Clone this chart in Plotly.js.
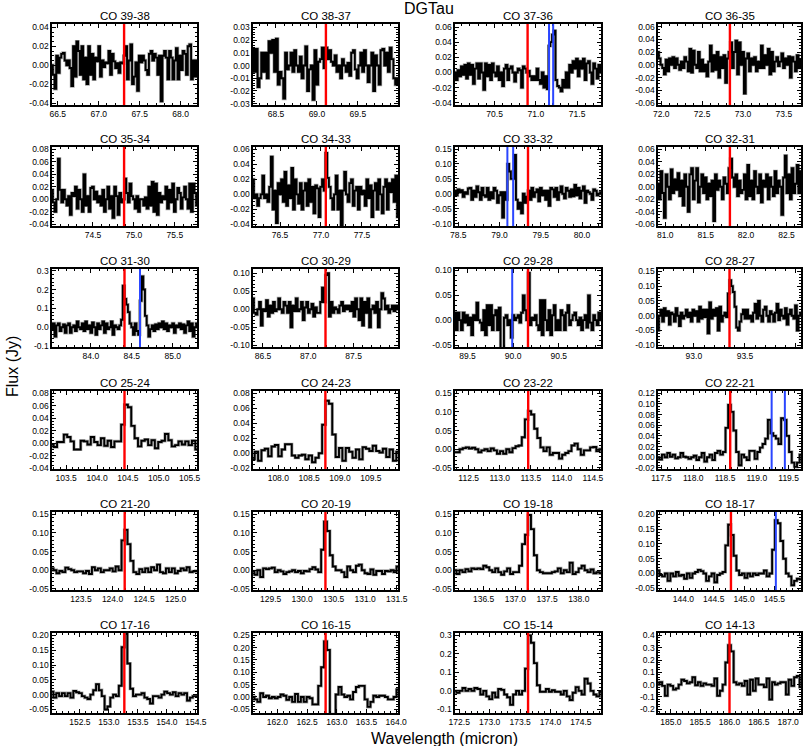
<!DOCTYPE html>
<html><head><meta charset="utf-8">
<script src="https://cdn.plot.ly/plotly-3.0.1.min.js"></script>
<style>html,body{margin:0;padding:0;background:#fff}#chart{width:804px;height:746px}</style>
</head><body><div id="chart"></div>
<script>
const titles = ['CO 39-38','CO 38-37','CO 37-36','CO 36-35','CO 35-34','CO 34-33','CO 33-32','CO 32-31',
  'CO 31-30','CO 30-29','CO 29-28','CO 28-27','CO 25-24','CO 24-23','CO 23-22','CO 22-21',
  'CO 21-20','CO 20-19','CO 19-18','CO 18-17','CO 17-16','CO 16-15','CO 15-14','CO 14-13'];
const xRanges = [[66.43,68.20],[68.22,69.99],[70.02,71.79],[71.96,73.71],[74.00,75.77],[76.17,77.94],[78.46,80.23],[80.91,82.68],
  [83.526,85.296],[86.39,87.99],[89.363,90.963],[92.649,94.049],[103.27,105.62],[107.59,109.94],[112.28,114.63],[117.445,119.695],
  [123.04,125.34],[129.22,131.52],[136.05,138.35],[143.58,145.94],[152.02,154.52],[161.59,164.03],[172.43,174.83],[184.78,187.22]];
const yRanges = [[-0.042,0.0435],[-0.031,0.0326],[-0.043,0.064],[-0.063,0.064],[-0.043,0.084],[-0.042,0.063],[-0.108,0.157],[-0.063,0.064],
  [-0.105,0.309],[-0.105,0.112],[-0.054,0.103],[-0.106,0.158],[-0.0413,0.084],[-0.021,0.083],[-0.053,0.156],[-0.0219,0.124],
  [-0.053,0.156],[-0.053,0.156],[-0.053,0.156],[-0.056,0.208],[-0.062,0.208],[-0.065,0.259],[-0.12,0.313],[-0.23,0.419]];
const xTickLabels = [['66.5','67.0','67.5','68.0'],['68.5','69.0','69.5'],['70.5','71.0','71.5'],['72.0','72.5','73.0','73.5'],
  ['74.5','75.0','75.5'],['76.5','77.0','77.5'],['78.5','79.0','79.5','80.0'],['81.0','81.5','82.0','82.5'],
  ['84.0','84.5','85.0'],['86.5','87.0','87.5'],['89.5','90.0','90.5'],['93.0','93.5','94.0'],
  ['103.5','104.0','104.5','105.0','105.5'],['108.0','108.5','109.0','109.5'],['112.5','113.0','113.5','114.0','114.5'],['117.5','118.0','118.5','119.0','119.5'],
  ['123.5','124.0','124.5','125.0'],['129.5','130.0','130.5','131.0','131.5'],['136.5','137.0','137.5','138.0'],['144.0','144.5','145.0','145.5'],
  ['152.5','153.0','153.5','154.0','154.5'],['162.0','162.5','163.0','163.5','164.0'],['172.5','173.0','173.5','174.0','174.5'],['185.0','185.5','186.0','186.5','187.0']];
const yTickLabels = [['-0.04','-0.02','0.00','0.02','0.04'],['-0.03','-0.02','-0.01','0.00','0.01','0.02','0.03'],
  ['-0.04','-0.02','0.00','0.02','0.04','0.06'],['-0.06','-0.04','-0.02','0.00','0.02','0.04','0.06'],
  ['-0.04','-0.02','0.00','0.02','0.04','0.06','0.08'],['-0.04','-0.02','0.00','0.02','0.04','0.06'],
  ['-0.10','-0.05','0.00','0.05','0.10','0.15'],['-0.06','-0.04','-0.02','0.00','0.02','0.04','0.06'],
  ['-0.1','0.0','0.1','0.2','0.3'],['-0.10','-0.05','0.00','0.05','0.10'],['-0.05','0.00','0.05','0.10'],
  ['-0.10','-0.05','0.00','0.05','0.10','0.15'],['-0.04','-0.02','0.00','0.02','0.04','0.06','0.08'],
  ['-0.02','0.00','0.02','0.04','0.06','0.08'],['-0.05','0.00','0.05','0.10','0.15'],
  ['-0.02','0.00','0.02','0.04','0.06','0.08','0.10','0.12'],['-0.05','0.00','0.05','0.10','0.15'],
  ['-0.05','0.00','0.05','0.10','0.15'],['-0.05','0.00','0.05','0.10','0.15'],['-0.05','0.00','0.05','0.10','0.15','0.20'],
  ['-0.05','0.00','0.05','0.10','0.15','0.20'],['-0.05','0.00','0.05','0.10','0.15','0.20','0.25'],
  ['-0.1','0.0','0.1','0.2','0.3'],['-0.2','-0.1','0.0','0.1','0.2','0.3','0.4']];
const redLines = [67.31,69.11,70.90,72.84,74.88,77.059,79.345,81.80,84.411,87.190,90.163,93.349,
  104.445,108.763,113.458,118.581,124.193,130.369,137.196,144.784,153.267,162.812,173.631,186.000];
const blueLines = [[],[],[71.16,71.21],[],[],[],[79.095,79.165],[],[84.60],[],[89.99],[],[],[],[],[119.233,119.441],[],[],[],[145.525],[],[],[],[]];

const flux_39_38 = [0.000,-0.010,-0.025,0.010,-0.008,0.008,0.012,0.013,0.005,0.000,0.005,-0.003,-0.022,0.020,-0.012,0.025,0.015,-0.010,0.020,
 -0.015,0.008,-0.020,0.020,-0.010,0.012,-0.015,0.008,0.004,0.020,-0.012,0.005,-0.002,0.003,0.002,0.015,-0.010,0.012,0.004,-0.003,
 0.002,-0.008,0.003,0.002,0.010,0.020,-0.015,0.005,0.022,-0.020,-0.012,0.003,-0.027,0.010,0.003,0.010,0.005,-0.005,-0.010,0.012,
 0.015,0.005,0.012,0.008,-0.010,0.010,-0.038,0.010,0.015,0.008,-0.015,0.015,0.008,-0.015,0.005,0.018,-0.015,0.010,-0.005,0.015,
 0.012,-0.010,0.020,0.022,-0.015,0.005,-0.012,0.005];
const flux_38_37 = [0.013,-0.005,0.013,-0.017,-0.010,0.010,-0.005,0.010,-0.010,0.019,0.010,0.020,-0.005,0.021,-0.015,-0.005,-0.010,-0.026,0.010,-0.003,
 0.000,0.010,-0.005,0.012,0.000,-0.005,0.007,-0.010,0.000,0.015,-0.020,-0.003,0.000,-0.027,0.012,-0.015,0.003,0.005,0.014,-0.002,
 0.014,0.005,0.012,0.003,0.000,0.008,-0.005,0.000,-0.010,0.005,0.000,-0.005,0.002,-0.008,0.010,0.012,-0.003,-0.010,0.000,0.010,
 -0.005,0.012,0.000,-0.013,0.000,0.010,-0.020,0.008,0.000,-0.015,0.012,0.013,0.000,0.010,-0.005,0.014,0.005,-0.010,-0.015,-0.010];
const flux_37_36 = [0.000,-0.010,0.003,-0.005,0.008,-0.003,0.010,-0.008,0.012,-0.003,0.010,-0.015,0.005,0.012,-0.008,0.012,0.000,-0.023,0.012,-0.005,
 0.010,-0.010,0.012,0.000,-0.005,0.008,-0.010,0.000,-0.018,0.005,0.010,-0.010,0.005,0.008,0.000,-0.012,0.000,0.005,0.003,-0.020,0.008,0.005,0.000,
 0.002,-0.005,-0.010,-0.005,-0.010,0.005,-0.010,-0.015,0.000,-0.020,-0.005,-0.022,0.035,0.040,0.050,0.055,
 -0.010,-0.018,-0.020,-0.025,-0.010,-0.020,0.000,-0.020,0.010,0.000,0.015,0.005,0.018,-0.005,0.015,0.005,0.018,-0.010,0.012,0.015,0.000,-0.015,0.012,0.005,-0.008,0.010,0.000];
const flux_36_35 = [0.020,0.010,0.000,-0.005,-0.015,0.008,-0.010,0.010,0.000,0.012,-0.005,0.010,0.000,-0.008,0.005,-0.005,0.012,0.005,-0.010,0.025,
 -0.012,0.022,0.000,-0.005,0.020,-0.010,0.008,-0.010,0.000,-0.018,0.005,0.030,-0.010,0.015,-0.008,0.020,-0.020,0.012,-0.005,0.015,-0.028,0.010,0.020,
 0.035,-0.005,0.020,0.038,-0.015,0.035,0.000,0.020,-0.045,0.010,0.018,-0.010,0.010,0.000,0.012,-0.010,0.005,-0.005,0.030,-0.005,0.015,0.000,0.025,-0.015,0.020,-0.010,0.005,
 0.012,-0.002,0.005,0.018,-0.005,0.010,0.000,0.013,-0.020,0.012,0.005,-0.010,0.015,-0.005,0.008];
const flux_35_34 = [0.015,-0.005,-0.020,0.000,0.065,0.015,-0.005,0.015,0.000,-0.010,0.005,-0.025,0.010,0.005,0.020,-0.015,0.015,0.000,-0.020,0.040,
 -0.010,0.005,-0.020,0.018,0.020,0.000,0.012,-0.005,0.005,-0.010,0.015,-0.020,0.000,0.020,-0.015,0.005,-0.030,0.020,0.005,-0.025,0.010,-0.005,0.000,
 0.033,0.010,-0.005,0.025,0.005,0.000,-0.015,0.005,-0.020,0.000,0.000,-0.010,0.003,-0.015,0.020,-0.010,0.028,-0.020,0.025,-0.025,0.010,-0.005,0.005,0.000,0.020,-0.015,0.015,-0.005,0.025,
 -0.020,0.000,0.018,0.010,-0.015,0.003,0.020,0.000,-0.015,0.025,-0.020,0.025,0.010,-0.010];
const flux_34_33 = [0.020,-0.005,0.000,-0.015,-0.005,0.000,0.025,-0.005,0.000,-0.010,0.010,0.050,-0.020,0.005,-0.038,0.015,0.000,0.020,-0.010,0.030,
 -0.015,0.012,-0.005,0.035,-0.020,0.020,0.000,-0.012,0.015,-0.020,0.005,0.015,-0.015,0.020,-0.010,0.010,-0.025,0.012,0.008,-0.030,0.010,0.020,0.005,
 0.055,0.022,0.010,-0.005,-0.020,0.000,0.025,-0.020,0.005,-0.042,0.005,0.030,0.000,-0.010,0.015,0.020,-0.015,0.005,0.010,-0.020,0.010,0.000,0.005,-0.015,0.020,-0.005,0.012,-0.030,0.005,
 0.015,-0.020,0.020,0.000,-0.025,0.010,0.020,-0.020,0.015,0.003,0.020,-0.010,0.025,-0.030];
const flux_33_32 = [0.010,-0.005,0.015,0.005,0.012,-0.010,0.005,0.000,0.018,0.020,-0.020,0.010,-0.010,0.025,0.005,-0.020,0.020,-0.005,-0.010,0.020,
 -0.020,0.005,-0.015,0.020,0.010,-0.030,-0.005,0.005,-0.080,0.005,-0.020,0.100,0.075,0.050,0.050,0.130,-0.020,-0.050,-0.030,-0.065,0.000,-0.030,-0.010,0.010,
 -0.020,0.020,-0.010,0.005,0.015,-0.025,0.020,-0.005,0.010,-0.020,0.010,-0.040,0.020,0.015,
 -0.010,0.020,-0.020,0.005,0.025,0.000,-0.015,0.020,0.010,-0.010,0.015,-0.008,0.030,-0.005,0.020,-0.015,0.010,0.025,-0.030,0.010,0.005,0.000,-0.020,0.015,0.010,-0.005,0.000,0.005];
const flux_32_31 = [0.005,-0.020,0.025,-0.010,-0.050,0.020,0.000,-0.020,0.028,-0.010,0.012,-0.005,0.022,-0.015,0.010,-0.030,0.020,0.000,-0.040,0.020,
 0.030,-0.020,0.010,0.030,-0.025,0.000,0.020,-0.010,0.015,-0.020,0.005,-0.015,0.010,-0.055,0.020,-0.005,0.010,0.000,-0.020,0.015,0.005,-0.010,0.030,
 0.045,0.015,0.000,0.020,-0.015,0.010,-0.010,-0.005,0.020,-0.020,0.035,-0.015,0.010,-0.020,0.025,0.000,-0.010,0.020,-0.025,0.010,0.000,0.020,-0.020,0.015,0.000,-0.015,0.025,
 -0.010,0.010,0.000,-0.045,0.015,0.050,-0.010,0.020,-0.020,0.030,-0.010,0.005,0.035,-0.010,0.025];
const flux_31_30 = [-0.010,0.020,-0.050,0.010,0.020,-0.020,0.000,0.015,-0.030,0.010,0.020,-0.030,0.000,0.010,-0.020,0.030,0.000,-0.010,0.020,-0.020,
 0.030,-0.010,0.010,-0.030,0.025,0.000,-0.040,0.020,-0.010,0.010,0.030,-0.030,0.020,-0.010,0.000,0.030,-0.040,0.010,0.000,-0.010,0.010,0.040,
 0.220,0.150,0.120,0.080,0.020,0.000,-0.040,0.020,-0.020,-0.040,0.140,0.270,0.200,0.060,
 0.010,-0.050,-0.010,0.010,-0.020,0.015,-0.010,0.020,0.000,0.030,-0.010,0.020,-0.020,0.010,0.000,0.020,-0.030,0.010,0.000,0.020,-0.010,0.015,-0.030,0.010,0.030,-0.020,0.020,-0.050,0.000,0.020];
const flux_30_29 = [0.030,-0.010,-0.015,0.000,0.020,-0.045,0.000,-0.005,0.025,-0.020,0.010,-0.010,0.020,-0.005,0.000,0.030,0.000,-0.010,0.020,0.010,
 -0.010,0.020,-0.050,0.010,-0.005,0.030,-0.005,0.000,0.020,-0.030,0.005,0.020,-0.010,0.000,0.015,-0.020,0.005,-0.010,-0.010,0.020,0.060,0.020,0.095,
 0.100,-0.020,0.020,-0.010,0.005,0.000,-0.010,0.010,0.020,-0.005,0.010,0.000,0.010,-0.005,0.020,-0.020,0.030,0.000,-0.030,0.030,-0.045,0.020,-0.010,0.030,-0.050,0.000,0.010,
 -0.010,0.020,-0.050,0.000,0.045,0.030,0.000,0.010,-0.010,0.000,0.010,-0.005,0.010,0.000];
const flux_29_28 = [0.015,-0.020,0.015,0.000,-0.020,0.015,-0.005,0.010,-0.010,0.005,-0.030,0.010,0.000,0.035,0.000,-0.005,-0.020,0.020,-0.030,0.030,
 -0.010,0.030,-0.020,0.010,0.020,-0.020,0.025,-0.070,-0.060,0.005,0.010,-0.010,0.000,-0.035,0.010,0.000,0.005,0.010,-0.005,0.015,0.050,0.020,0.000,
 0.095,-0.010,0.005,0.000,0.010,-0.010,-0.020,0.040,-0.030,0.040,0.000,-0.020,0.020,-0.030,0.010,0.030,-0.020,0.000,-0.020,0.020,0.010,-0.020,0.015,0.030,-0.010,0.000,0.010,0.015,0.000,
 -0.010,0.005,-0.020,0.000,0.010,-0.015,0.050,-0.005,-0.020,0.010,0.000,-0.010,0.015,0.000];
const flux_28_27 = [-0.050,0.000,0.020,-0.020,0.025,0.000,0.015,-0.030,0.010,0.005,-0.020,0.025,0.000,-0.035,0.010,-0.010,0.000,0.020,-0.005,0.010,
 -0.020,0.020,0.000,0.015,-0.020,0.030,-0.010,0.020,-0.005,0.020,-0.060,0.045,-0.010,0.020,0.000,0.025,-0.050,0.030,-0.020,0.000,0.010,-0.005,0.075,
 0.120,0.100,0.080,0.030,-0.040,-0.050,-0.020,0.005,0.020,-0.010,0.020,-0.010,0.000,-0.020,0.010,0.040,-0.010,0.050,0.000,-0.020,0.020,0.030,0.000,-0.020,0.015,0.005,-0.020,0.010,
 0.040,-0.015,0.020,0.000,-0.010,0.025,-0.030,0.005,0.020,0.000,-0.010,0.035,-0.050,0.000,0.010];
const flux_25_24 = [-0.002,-0.006,0.002,0.002,0.014,0.010,0.003,-0.010,-0.010,0.004,0.003,-0.002,0.010,0.002,-0.003,0.008,-0.004,0.004,-0.006,0.003,
 0.003,0.030,0.062,0.058,0.028,0.008,-0.005,0.004,0.006,-0.003,0.005,-0.008,0.002,0.004,0.015,0.005,-0.005,-0.003,0.003,-0.002,0.003,-0.003,0.004,-0.010];
const flux_24_23 = [-0.008,0.002,-0.010,0.004,0.006,-0.004,0.009,0.011,-0.004,0.005,0.012,0.012,-0.003,-0.006,-0.003,-0.002,-0.008,-0.003,-0.012,-0.006,
 0.000,0.038,0.070,0.066,0.025,-0.005,0.007,-0.010,0.007,0.002,-0.006,0.005,-0.008,0.008,0.006,0.003,0.010,0.003,0.001,0.006,-0.005,0.005,-0.010,0.002];
const flux_23_22 = [-0.008,-0.008,0.000,0.003,0.005,0.002,0.004,0.000,-0.008,-0.003,0.000,-0.005,0.002,-0.003,-0.012,-0.005,-0.012,0.000,-0.008,0.003,0.008,0.010,
 0.032,0.080,0.102,0.093,0.055,0.030,0.005,-0.005,0.005,-0.015,-0.010,-0.010,-0.025,-0.015,-0.010,-0.005,0.010,0.015,0.000,-0.015,-0.003,-0.003,0.005,0.006,-0.005,0.000];
const flux_22_21 = [0.000,-0.004,0.005,0.000,0.008,0.001,0.005,-0.002,0.000,0.008,0.001,0.000,-0.003,0.000,0.003,-0.005,0.000,0.008,-0.008,0.000,0.005,-0.005,0.008,0.012,0.005,0.010,
 0.055,0.098,0.085,0.050,0.010,-0.015,0.005,0.000,-0.005,0.012,0.012,-0.003,0.010,0.018,0.025,0.035,0.070,0.045,0.040,0.035,0.025,0.073,0.070,0.040,0.010,-0.010,-0.018,-0.010,0.005];
const flux_21_20 = [0.005,0.000,-0.008,-0.002,-0.005,0.007,0.003,0.000,-0.005,-0.003,-0.003,-0.008,-0.002,-0.010,0.008,0.000,0.005,-0.005,0.000,0.000,0.005,-0.003,0.010,0.000,
 0.080,0.108,0.070,0.025,-0.005,-0.010,0.003,-0.005,0.005,-0.005,0.008,0.000,0.015,-0.005,-0.008,0.005,-0.005,0.005,-0.008,-0.002,0.005,0.000,0.008,-0.005,-0.003,-0.002];
const flux_20_19 = [-0.003,-0.012,0.000,-0.018,0.005,0.003,0.005,0.007,-0.005,0.000,-0.003,-0.010,-0.005,-0.003,0.000,-0.005,-0.002,-0.008,-0.002,-0.003,0.003,0.008,0.002,-0.005,
 0.055,0.130,0.105,0.040,0.010,0.000,0.000,-0.005,-0.018,0.010,0.000,-0.005,0.012,0.015,0.000,-0.008,-0.010,0.002,-0.012,-0.002,-0.002,-0.010,-0.002,-0.003,0.000,-0.005,0.010];
const flux_19_18 = [0.000,-0.010,0.000,-0.005,0.003,-0.003,0.005,0.003,0.005,0.003,0.012,0.008,0.000,-0.005,0.005,-0.005,-0.012,-0.003,0.005,-0.010,-0.005,-0.005,0.012,
 0.070,0.095,0.148,0.110,0.040,0.000,-0.005,-0.008,-0.008,-0.008,-0.005,-0.003,0.005,-0.008,0.000,-0.005,0.020,-0.010,-0.005,0.005,0.012,0.000,-0.005,0.002,-0.008,-0.005,-0.008];
const flux_18_17 = [0.010,-0.005,-0.010,0.000,-0.025,0.000,-0.010,0.005,-0.008,-0.005,-0.018,0.000,-0.015,0.000,0.005,0.012,0.008,0.000,-0.025,-0.010,0.000,-0.030,-0.005,0.000,0.005,
 0.095,0.165,0.130,0.060,0.010,-0.005,0.000,-0.015,0.000,-0.010,0.000,-0.005,0.000,0.000,0.010,-0.010,0.000,0.080,0.180,0.170,0.110,0.050,0.000,-0.010,-0.040,-0.025,-0.018,-0.020];
const flux_17_16 = [0.010,-0.010,0.005,-0.005,0.005,-0.005,0.005,-0.010,0.012,0.008,0.005,-0.005,-0.010,-0.015,0.000,0.015,0.035,0.015,-0.005,-0.050,-0.040,-0.010,0.000,-0.005,0.030,
 0.160,0.230,0.105,0.020,-0.005,0.000,0.000,0.005,-0.010,-0.015,-0.030,-0.005,-0.005,-0.010,0.000,0.010,0.005,0.000,0.008,-0.005,0.005,0.000,0.005,-0.020,-0.010,-0.005,-0.005];
const flux_16_15 = [0.000,-0.010,-0.020,0.015,0.000,0.005,-0.005,0.000,-0.005,0.000,0.010,0.005,-0.012,0.000,-0.020,0.012,-0.020,0.000,-0.020,0.000,-0.005,-0.030,-0.030,0.045,
 0.120,0.225,0.190,-0.070,-0.070,0.010,0.040,0.010,0.000,0.005,-0.010,0.020,0.040,0.045,0.045,-0.010,-0.040,-0.020,0.005,0.000,0.005,0.005,0.000,-0.010,-0.010,0.000,0.030];
const flux_15_14 = [0.000,-0.010,0.000,0.015,0.000,0.010,0.000,0.015,0.010,-0.020,0.000,-0.030,-0.045,-0.010,-0.035,0.010,0.005,-0.020,-0.035,-0.075,-0.020,0.000,-0.020,0.000,
 0.120,0.300,0.260,0.150,0.030,-0.005,-0.005,0.010,-0.005,0.003,-0.005,-0.005,-0.020,0.000,-0.030,-0.050,-0.010,0.020,0.000,-0.020,0.065,0.040,0.000,-0.020,-0.030,-0.005];
const flux_14_13 = [0.000,0.020,-0.010,-0.090,0.000,-0.010,-0.040,-0.030,0.000,0.040,0.030,0.010,0.020,0.060,-0.005,0.020,-0.010,0.010,0.000,0.000,-0.010,0.050,-0.090,-0.050,0.000,
 0.180,0.320,0.270,0.020,0.000,0.010,-0.010,0.030,-0.080,0.040,-0.050,0.050,0.000,0.000,-0.020,0.050,-0.120,0.020,0.000,0.010,0.020,0.020,-0.080,0.040,-0.010,0.060,0.070,-0.020];

const fluxes = [flux_39_38,flux_38_37,flux_37_36,flux_36_35,flux_35_34,flux_34_33,flux_33_32,flux_32_31,
  flux_31_30,flux_30_29,flux_29_28,flux_28_27,flux_25_24,flux_24_23,flux_23_22,flux_22_21,
  flux_21_20,flux_20_19,flux_19_18,flux_18_17,flux_17_16,flux_16_15,flux_15_14,flux_14_13];

// layout geometry (pixels)
const W = 804, H = 746;
const colsPx = [[52,197],[253,398],[455,601],[658,801]];
const rowsPx = [[24,105],[147,226],[269,347],[391,469],[512,590],[633,713]];
const FONT = 'Liberation Sans, Arial, Helvetica, sans-serif';

const traces = [], shapes = [], annotations = [];
const layout = {width:W, height:H, margin:{l:0,r:0,t:0,b:0}, showlegend:false,
  paper_bgcolor:'#fff', plot_bgcolor:'#fff', font:{family:FONT, size:8.5, color:'#000'}};

function minorStep(labels){
  const v = labels.map(Number); const d = Math.abs(v[1]-v[0]);
  const m = Math.round(d / Math.pow(10, Math.floor(Math.log10(d))+0.0000001) );
  return m === 2 ? d/4 : d/5;
}

titles.forEach((t,i)=>{
  const col = i%4, row = Math.floor(i/4), n = i+1;
  const xa = n===1 ? 'x' : 'x'+n, ya = n===1 ? 'y' : 'y'+n;
  const xr = xRanges[i], f = fluxes[i], N = f.length;
  const step = (xr[1]-xr[0])/(N-1);
  const xs = f.map((_,k)=> xr[0] + k*step);
  // soft grey halo under the black step line (as in the rasterised original)
  traces.push({type:'scatter', mode:'lines', x:xs, y:f, xaxis:xa, yaxis:ya,
    line:{color:'#a8a8a8', width:3.2, shape:'hvh'}, hoverinfo:'skip'});
  traces.push({type:'scatter', mode:'lines', x:xs, y:f, xaxis:xa, yaxis:ya,
    line:{color:'#000', width:1.9, shape:'hvh'}, hoverinfo:'skip'});
  const axCommon = {ticks:'inside', ticklen:4, tickwidth:1, tickcolor:'#000', showline:true, linewidth:1.6,
    linecolor:'#000', mirror:'allticks', showgrid:false, zeroline:false, fixedrange:true,
    tickfont:{family:FONT, size:8.5, color:'#000'}};
  layout['xaxis'+(n===1?'':n)] = Object.assign({}, axCommon, {
    domain:[colsPx[col][0]/W, colsPx[col][1]/W], range:xr, anchor:ya,
    tickmode:'array', tickvals:xTickLabels[i].map(Number), ticktext:xTickLabels[i],
    minor:{ticks:'inside', ticklen:2, tickwidth:1, tickcolor:'#000', tickmode:'linear', tick0:0, dtick:0.1, showgrid:false}});
  layout['yaxis'+(n===1?'':n)] = Object.assign({}, axCommon, {
    domain:[1-rowsPx[row][1]/H, 1-rowsPx[row][0]/H], range:yRanges[i], anchor:xa,
    tickmode:'array', tickvals:yTickLabels[i].map(Number), ticktext:yTickLabels[i],
    minor:{ticks:'inside', ticklen:2, tickwidth:1, tickcolor:'#000', tickmode:'linear', tick0:0, dtick:minorStep(yTickLabels[i]), showgrid:false}});
  shapes.push({type:'line', xref:xa, yref:ya+' domain', x0:redLines[i], x1:redLines[i], y0:0, y1:1,
    line:{color:'#ff0000', width:2.4}});
  blueLines[i].forEach(b=> shapes.push({type:'line', xref:xa, yref:ya+' domain', x0:b, x1:b, y0:0, y1:1,
    line:{color:'#2a46ff', width:2}}));
  annotations.push({text:t, xref:xa+' domain', yref:ya+' domain', x:0.5, y:1, xanchor:'center', yanchor:'bottom',
    yshift:0, showarrow:false, font:{family:FONT, size:11.5, color:'#000'}});
});

annotations.push({text:'DGTau', xref:'paper', yref:'paper', x:429/W, y:1-8/H, xanchor:'center', yanchor:'middle',
  showarrow:false, font:{family:FONT, size:16, color:'#000'}});
annotations.push({text:'Wavelength (micron)', xref:'paper', yref:'paper', x:444/W, y:1-738/H, xanchor:'center', yanchor:'middle',
  showarrow:false, font:{family:FONT, size:16, color:'#000'}});
annotations.push({text:'Flux (Jy)', xref:'paper', yref:'paper', x:12/W, y:1-367/H, xanchor:'center', yanchor:'middle',
  textangle:-90, showarrow:false, font:{family:FONT, size:16, color:'#000'}});

layout.shapes = shapes; layout.annotations = annotations;
Plotly.newPlot('chart', traces, layout, {staticPlot:true, displayModeBar:false});
</script></body></html>
